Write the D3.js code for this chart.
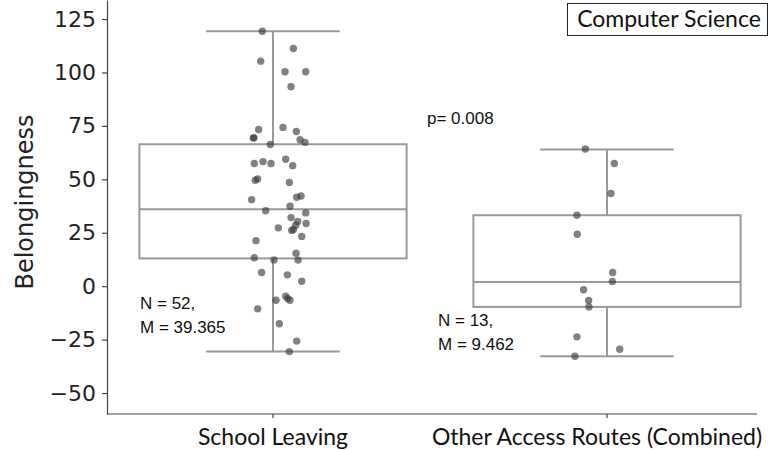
<!DOCTYPE html>
<html>
<head>
<meta charset="utf-8">
<script src="https://cdn.jsdelivr.net/npm/d3@7"></script>
<style>
  body { margin: 0; background: #fff; }
  svg { display: block; }
</style>
</head>
<body>
<script>
// Daten
var categories = ["School Leaving", "Other Access Routes (Combined)"];

var schoolValues = [119.3, 111.2, 105.3, 100.3, 100.3, 93.3, 74.3, 73.3, 72.4, 69.4, 69.4, 68.5, 67.3, 66.3,
  59.4, 58.3, 57.4, 57.4, 56.4, 50.2, 49.6, 48.5, 42.2, 41.6, 40.5, 37.4, 35.3, 34.3, 32.1, 30.3,
  29.3, 28.5, 27.3, 26.5, 26.1, 23.3, 21.3, 15.4, 13.3, 12.3, 12.2, 6.4, 5.3, 2.3, -4.7, -5.8,
  -6.6, -6.6, -10.6, -17.6, -25.7, -30.6];
// horizontale Streuung (Anteil der Kategoriebreite)
var schoolJitter = [-0.032, 0.061, -0.037, 0.036, 0.098, 0.054, 0.030, -0.043, 0.070, -0.059, -0.057, 0.081, 0.096, -0.008,
  0.038, -0.030, -0.056, -0.006, 0.059, -0.046, -0.053, 0.049, 0.084, 0.071, -0.064, 0.051, -0.022, 0.098, 0.054, 0.074,
  0.099, 0.068, 0.016, 0.061, 0.056, 0.086, -0.051, 0.069, -0.056, 0.003, 0.075, -0.034, 0.043, 0.086, 0.038, 0.044,
  0.051, 0.009, -0.046, 0.019, 0.071, 0.049];

var otherValues = [64.2, 57.4, 43.4, 33.2, 24.3, 6.4, 2.2, -1.7, -6.7, -9.7, -23.7, -29.5, -32.8];
var otherJitter = [-0.065, 0.022, 0.012, -0.090, -0.089, 0.017, 0.016, -0.070, -0.055, -0.054, -0.090, 0.038, -0.096];

// Boxplot-Kennwerte: [untere Whisker, Q1, Median, Q3, obere Whisker]
var schoolBox = [-30.6, 13.0, 36.0, 66.4, 119.3];
var otherBox = [-32.8, -9.7, 2.0, 33.2, 64.0];

var nLabels = ["N = 52,", "N = 13,"];
var mLabels = ["M = 39.365", "M = 9.462"];
var pLabel = "p= 0.008";
var yTicks = [-50, -25, 0, 25, 50, 75, 100, 125];

var groups = [
  {cat: categories[0], values: schoolValues, jitter: schoolJitter, box: schoolBox, n: nLabels[0], m: mLabels[0]},
  {cat: categories[1], values: otherValues, jitter: otherJitter, box: otherBox, n: nLabels[1], m: mLabels[1]}
];

var width = 780, height = 450;

var svg = d3.select("body").append("svg")
  .attr("width", width)
  .attr("height", height);

//Y Achse definieren
var yScale = d3.scaleLinear()
  .domain([-59.8, 133.9])
  .range([414, 0]);

//X Achse definieren (Kategorien)
var xScale = d3.scaleBand()
  .domain(categories)
  .range([106, 774])
  .paddingInner(0)
  .paddingOuter(0);

var step = xScale.step();
var boxW = step * 0.8;
var cx = function (c) { return xScale(c) + xScale.bandwidth() / 2; };

// Y Achse
var yAxis = svg.append("g")
  .attr("transform", "translate(107,0)")
  .call(d3.axisLeft(yScale).tickValues(yTicks).tickSize(5).tickSizeOuter(0).tickPadding(6)
    .tickFormat(function (d) { return d < 0 ? "\u2212" + Math.abs(d) : d; }));
yAxis.selectAll("text")
  .attr("font-family", "DejaVu Sans")
  .attr("font-size", 22)
  .attr("fill", "#222");
yAxis.selectAll("line, path").attr("stroke", "#444").attr("stroke-width", 1.2);
yAxis.attr("font-family", null).attr("font-size", null);

// X Achse
var xAxis = svg.append("g")
  .attr("transform", "translate(0,414)")
  .call(d3.axisBottom(xScale).tickSize(4).tickSizeOuter(0).tickPadding(11));
xAxis.select(".domain").remove();
xAxis.append("line")
  .attr("x1", 107).attr("x2", 757)
  .attr("stroke", "#444").attr("stroke-width", 1.2);
xAxis.selectAll("line").attr("stroke", "#444").attr("stroke-width", 1.2);
xAxis.selectAll("text")
  .attr("font-family", "Lato")
  .attr("font-size", 23)
  .attr("fill", "#111")
  .attr("dx", function (d, i) { return i === 1 ? -10 : 0; });
xAxis.attr("font-family", null).attr("font-size", null);

// Y Beschriftung
svg.append("text")
  .attr("transform", "translate(33,202) rotate(-90)")
  .attr("text-anchor", "middle")
  .attr("font-family", "DejaVu Sans")
  .attr("font-size", 24)
  .attr("fill", "#222")
  .text("Belongingness");

// Boxplots
var boxColor = "#999";
var g = svg.selectAll(".grp").data(groups).enter().append("g").attr("class", "grp");

g.append("line") // Whisker
  .attr("x1", function (d) { return cx(d.cat); })
  .attr("x2", function (d) { return cx(d.cat); })
  .attr("y1", function (d) { return yScale(d.box[0]); })
  .attr("y2", function (d) { return yScale(d.box[4]); })
  .attr("stroke", boxColor).attr("stroke-width", 2);

g.append("rect")
  .attr("x", function (d) { return cx(d.cat) - boxW / 2; })
  .attr("width", boxW)
  .attr("y", function (d) { return yScale(d.box[3]); })
  .attr("height", function (d) { return yScale(d.box[1]) - yScale(d.box[3]); })
  .attr("fill", "#fff")
  .attr("stroke", boxColor).attr("stroke-width", 2);

g.append("line") // Median
  .attr("x1", function (d) { return cx(d.cat) - boxW / 2; })
  .attr("x2", function (d) { return cx(d.cat) + boxW / 2; })
  .attr("y1", function (d) { return yScale(d.box[2]); })
  .attr("y2", function (d) { return yScale(d.box[2]); })
  .attr("stroke", boxColor).attr("stroke-width", 2);

[0, 4].forEach(function (k) { // Whisker-Kappen
  g.append("line")
    .attr("x1", function (d) { return cx(d.cat) - boxW / 4; })
    .attr("x2", function (d) { return cx(d.cat) + boxW / 4; })
    .attr("y1", function (d) { return yScale(d.box[k]); })
    .attr("y2", function (d) { return yScale(d.box[k]); })
    .attr("stroke", boxColor).attr("stroke-width", 2);
});

// Punkte
g.selectAll("circle")
  .data(function (d) { return d.values.map(function (v, i) { return {cat: d.cat, v: v, j: d.jitter[i]}; }); })
  .enter().append("circle")
  .attr("cx", function (d) { return cx(d.cat) + d.j * step; })
  .attr("cy", function (d) { return yScale(d.v); })
  .attr("r", 3.7)
  .attr("fill", "#333")
  .attr("fill-opacity", 0.62);

// N / M Texte
var annot = [
  {g: groups[0], dx: -133, v: -10.8},
  {g: groups[1], dx: -169, v: -18.7}
];
annot.forEach(function (a) {
  var t = svg.append("text")
    .attr("font-family", "Liberation Sans")
    .attr("font-size", 17)
    .attr("fill", "#111");
  t.append("tspan").attr("x", cx(a.g.cat) + a.dx).attr("y", yScale(a.v)).text(a.g.n);
  t.append("tspan").attr("x", cx(a.g.cat) + a.dx).attr("dy", 24).text(a.g.m);
});

svg.append("text")
  .attr("x", 427).attr("y", yScale(76.1))
  .attr("font-family", "Liberation Sans")
  .attr("font-size", 17)
  .attr("fill", "#111")
  .text(pLabel);

// Titelbox
svg.append("rect")
  .attr("x", 567.5).attr("y", 3.5).attr("width", 200).attr("height", 32)
  .attr("fill", "#fff").attr("stroke", "#222").attr("stroke-width", 1);
svg.append("text")
  .attr("x", 669).attr("y", 27)
  .attr("text-anchor", "middle")
  .attr("font-family", "Lato")
  .attr("font-size", 23)
  .attr("fill", "#111")
  .text("Computer Science");
</script>
</body>
</html>
